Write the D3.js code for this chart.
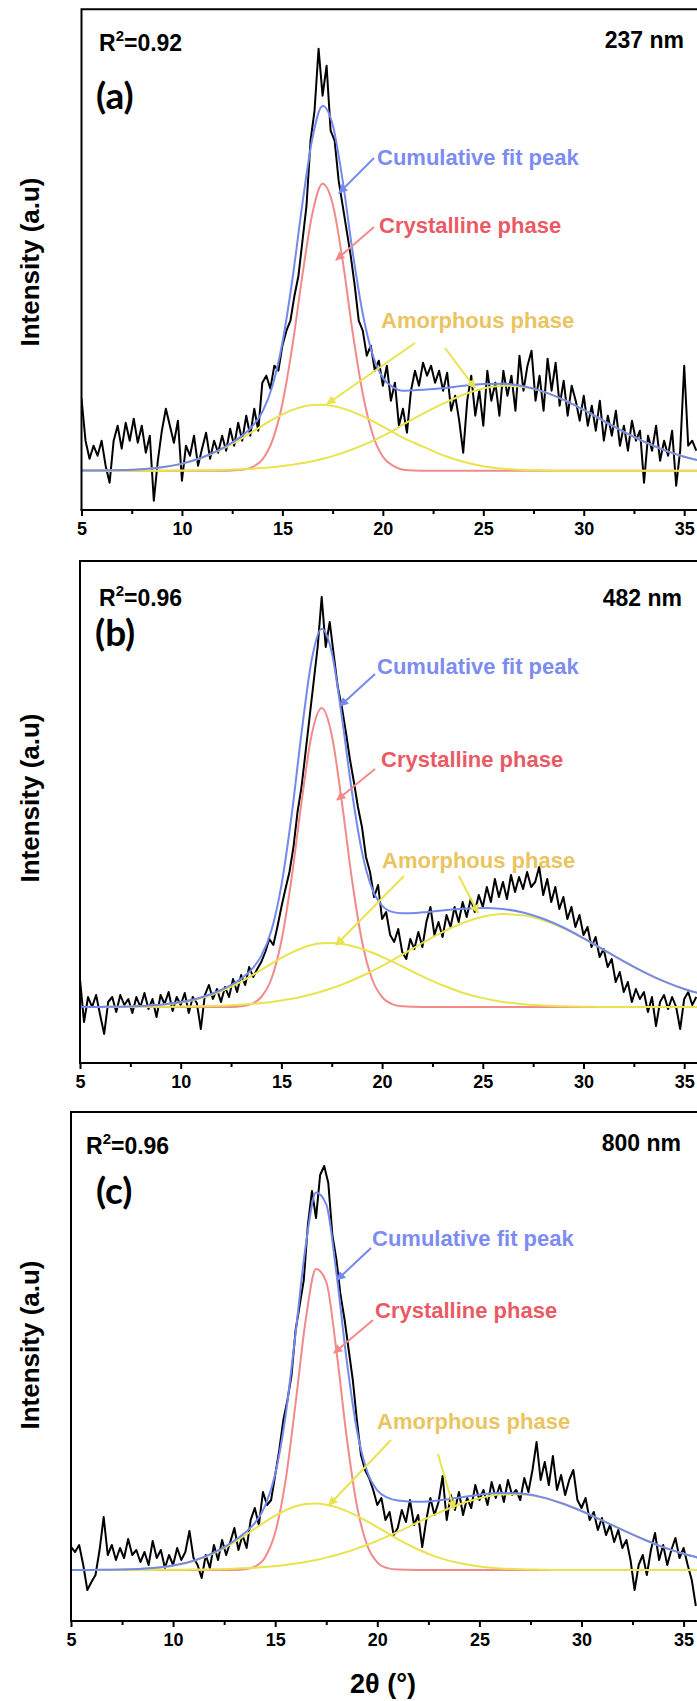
<!DOCTYPE html>
<html><head><meta charset="utf-8">
<script src="https://cdn.jsdelivr.net/npm/d3@7"></script>
<style>body{margin:0;background:#fff}svg{display:block}</style>
</head><body><svg id="c" width="697" height="1701"></svg>
<script>
// ---------- DATA ----------
const dataStart = 5, dataStep = 0.2;   // 2θ sampling of the measured patterns
const dataA = [72,30,12,25,15,30,5,-12,30,45,
22,48,30,52,28,45,18,35,-30,10,
40,62,45,28,50,-10,25,15,35,5,
22,38,12,30,18,35,20,42,25,48,
30,55,35,62,40,88,95,82,105,100,
125,140,150,175,195,230,265,330,360,422,
375,405,340,330,290,265,240,215,185,150,
140,115,125,100,110,85,105,70,88,45,
62,38,80,100,85,108,95,105,88,100,
80,98,60,75,50,18,70,95,55,80,
45,100,70,88,55,100,75,95,60,115,
80,105,120,70,95,60,112,80,108,65,
90,55,85,70,50,75,45,65,40,70,
30,55,35,60,25,45,20,50,30,40,
-12,35,20,45,10,30,15,40,-15,20,
105,25,30,20];
const dataB = [28,-15,10,0,12,-8,-27,5,10,-5,
12,2,8,-6,10,0,14,-2,8,-10,
12,3,15,-4,10,2,14,-6,10,4,
-22,12,22,8,18,5,20,10,28,15,
32,22,40,30,38,45,55,68,62,80,
100,118,135,160,195,220,255,290,325,360,
410,360,385,352,320,300,275,248,225,200,
180,150,135,110,122,88,95,72,65,78,
55,48,68,58,75,60,85,100,72,85,
70,92,80,100,85,105,90,108,95,112,
100,120,105,128,110,125,108,132,115,130,
118,135,120,125,140,112,128,105,120,98,
110,88,100,80,92,72,80,60,70,50,
58,40,48,25,35,15,25,5,18,8,
15,-5,10,-19,5,12,-2,10,0,-22,
8,15,2,10];
const dataC = [23,18,25,5,-20,-12,-5,20,53,15,
25,10,22,12,31,15,20,8,18,5,
29,12,20,2,15,5,22,10,18,39,
12,5,-8,15,2,25,10,30,15,28,
42,20,35,22,50,62,45,78,65,70,
95,120,150,170,195,240,265,290,345,379,
352,395,404,387,335,310,275,250,220,190,
150,115,100,92,80,65,72,50,58,35,
42,60,48,70,45,55,23,50,72,55,
68,94,50,75,60,78,55,72,62,85,
70,80,65,88,72,85,68,90,75,80,
70,92,78,100,128,90,108,85,114,80,
95,75,90,100,70,62,72,50,58,40,
52,35,45,28,40,22,30,10,-20,5,
15,-5,20,37,10,25,5,20,32,12,
22,5,-10,-36];

const fitX = [5,6,7,8,9,10,11,12,12.5,13,13.5,14,14.5,15,15.5,16,16.5,17,17.5,18,18.5,19,19.5,20,20.5,21,22,23,24,25,26,27,28,29,30,31,32,33,34,35,36];

const crystA = [0,0,0,0,0,0,0,0, 0.3,1,3.6,11,30,67,125,196,258,287,267,210,138,77,36,14,5,1, 0,0,0,0,0,0,0,0,0,0,0,0,0,0,0];
const amorph1A = [0.1,0.2,0.6,1.5,3.4,6.9,12.8,21.5, 26.8,32.6,38.8,45,51,56.4,60.8,64,65.7,65.9,64.6,62.3,58.8,54.5,49.5,44,38.5,33, 24,15.5,9,4.5,2,0.8,0.3,0,0,0,0,0,0,0,0];
const amorph2A = [0,0,0,0,0,0.2,0.4,0.8, 1.1,1.5,2,2.7,3.5,4.6,5.9,7.6,9.5,11.9,14.6,17.8,21.4,25.5,29.9,34.8,40,46, 57,67,76,82.2,85,83.7,78.8,70.8,60.8,49.7,38.9,29,20.6,14,9.1];

const crystB = [0,0,0,0,0,0,0,0, 0.1,0.7,2.9,10,28,66,128,205,272,299,272,205,128,66,28,10,2.9,0.7, 0,0,0,0,0,0,0,0,0,0,0,0,0,0,0];
const amorph1B = [0,0.1,0.3,0.9,2.1,4.5,8.8,15.7, 20.2,25.4,31.1,37.1,43.2,49.1,54.4,58.8,62,63.7,64,63,61,58.1,54.5,50.2,45.5,40.6, 30.7,21.7,14.3,8.9,5.1,2.8,1.4,0.7,0.3,0.1,0,0,0,0,0];
const amorph2B = [0,0,0,0.1,0.2,0.4,0.7,1.3, 1.7,2.3,3,4,5.1,6.5,8.2,10.3,12.7,15.5,18.7,22.4,26.5,31,35.9,41.2,46.7,52.4, 64,74.9,84,90.2,92.9,91.7,86.8,78.8,68.5,57.1,45.6,34.9,25.6,18,12.2];

const crystC = [0,0,0,0,0,0,0,0, 0,0.1,0.7,3.4,12.6,37.4,88.4,167,251,301,288,219,133,64.4,24.9,7.7,1.9,0.4, 0,0,0,0,0,0,0,0,0,0,0,0,0,0,0];
const amorph1C = [0,0.1,0.2,0.7,1.8,4.2,8.9,16.7, 21.9,27.8,34.4,41.2,48.1,54.4,59.7,63.7,66,66.4,65.3,62.7,58.9,54.2,48.7,42.8,36.8,30.9, 20.5,12.4,6.9,3.5,1.6,0.7,0.3,0,0,0,0,0,0,0,0];
const amorph2C = [0,0,0,0,0.1,0.2,0.4,0.7, 1,1.3,1.8,2.3,3.1,4,5.1,6.5,8.1,10.1,12.4,15,18,21.4,25.2,29.2,33.6,38.2, 47.8,57.2,65.5,71.8,75.4,75.7,72.8,67,59,49.7,40.1,31,22.9,16.2,10.9];

const xTicks = [5,10,15,20,25,30,35];
const xMinorTicks = [7.5,12.5,17.5,22.5,27.5,32.5];
const r2Values = ["0.92","0.96","0.96"];
const thicknessLabels = ["237 nm","482 nm","800 nm"];
const panelLetters = ["(a)","(b)","(c)"];
const seriesNames = ["Cumulative fit peak","Crystalline phase","Amorphous phase"];

// ---------- LAYOUT ----------
const layout = [
  {left:81.5, x35:684.2, top:9.3, axis:510, base:470.7, ylab:262,
   r2:[99,43], nm:[684,40], let:[96,94],
   cum:{t:[377,157], a:[[374,158],[339,193]]},
   cry:{t:[379,225], a:[[374,227],[336,260]]},
   amo:{t:[381,320], a1:[[415,343],[327,404]], a2:[[445,348],[475,388]]}},
  {left:80, x35:684.2, top:561, axis:1063, base:1007, ylab:798,
   r2:[99,598], nm:[682,598], let:[95,631],
   cum:{t:[377,666], a:[[375,674],[340,706]]},
   cry:{t:[381,759], a:[[375,769],[337,800]]},
   amo:{t:[382,860], a1:[[404,876],[336,945]], a2:[[459,876],[478,913]]}},
  {left:71, x35:683.6, top:1112, axis:1621, base:1570, ylab:1345,
   r2:[86,1146], nm:[681,1143], let:[96,1189],
   cum:{t:[372,1238], a:[[371,1248],[337,1280]]},
   cry:{t:[375,1310], a:[[373,1320],[334,1353]]},
   amo:{t:[377,1421], a1:[[391,1440],[329,1505]], a2:[[438,1454],[454,1509]]}}
];
const series = [
  {data:dataA, cr:crystA, a1:amorph1A, a2:amorph2A},
  {data:dataB, cr:crystB, a1:amorph1B, a2:amorph2B},
  {data:dataC, cr:crystC, a1:amorph1C, a2:amorph2C}
];

const C = {blueLine:"#7488ee", blueText:"#7c8cf0", redLine:"#f28a8a", redText:"#ea5a64",
           yelLine:"#e8e34e", yelText:"#e9c45f"};
const FONT = "'Liberation Sans', Arial, sans-serif";

const svg = d3.select("#c");
const defs = svg.append("defs");
function marker(id, color){
  defs.append("marker").attr("id",id).attr("viewBox","0 0 10 10").attr("refX",9).attr("refY",5)
    .attr("markerWidth",11).attr("markerHeight",9).attr("markerUnits","userSpaceOnUse")
    .attr("orient","auto").append("path").attr("d","M0,0L10,5L0,10z").attr("fill",color);
}
marker("mb",C.blueLine); marker("mr",C.redLine); marker("my",C.yelLine);

layout.forEach((L,i)=>{
  const S = series[i];
  const x = d3.scaleLinear().domain([5,35]).range([L.left, L.x35]);
  const y = d3.scaleLinear().domain([-(L.axis-L.base), L.base-L.top]).range([L.axis, L.top]);
  const g = svg.append("g");
  const clipId = "clip"+i;
  defs.append("clipPath").attr("id",clipId).append("rect")
    .attr("x",L.left).attr("y",L.top).attr("width",697-L.left+5).attr("height",L.axis-L.top);
  const plot = g.append("g").attr("clip-path",`url(#${clipId})`);

  const pts = S.data.map((v,k)=>[dataStart+k*dataStep, v]);
  const line = d3.line().x(d=>x(d[0])).y(d=>y(d[1]));
  const fitLine = d3.line().x(d=>x(d[0])).y(d=>y(d[1])).curve(d3.curveMonotoneX);

  plot.append("path").attr("d",line(pts)).attr("fill","none").attr("stroke","#000")
    .attr("stroke-width",2).attr("stroke-linejoin","round");

  const cr = fitX.map((xv,k)=>[xv,S.cr[k]]);
  const a1 = fitX.map((xv,k)=>[xv,S.a1[k]]);
  const a2 = fitX.map((xv,k)=>[xv,S.a2[k]]);
  const cum = fitX.map((xv,k)=>[xv,S.cr[k]+S.a1[k]+S.a2[k]]);
  plot.append("path").attr("d",fitLine(cr)).attr("fill","none").attr("stroke",C.redLine).attr("stroke-width",2);
  plot.append("path").attr("d",fitLine(a1)).attr("fill","none").attr("stroke",C.yelLine).attr("stroke-width",2);
  plot.append("path").attr("d",fitLine(a2)).attr("fill","none").attr("stroke",C.yelLine).attr("stroke-width",2);
  plot.append("path").attr("d",fitLine(cum)).attr("fill","none").attr("stroke",C.blueLine).attr("stroke-width",2);

  // frame
  g.append("path").attr("d",`M${L.left},${L.axis}V${L.top}H705`).attr("fill","none").attr("stroke","#000").attr("stroke-width",2);
  g.append("path").attr("d",`M${L.left-1},${L.axis}H705`).attr("stroke","#000").attr("stroke-width",2);

  // axis ticks
  const ax = g.append("g").attr("transform",`translate(0,${L.axis})`)
    .call(d3.axisBottom(x).tickValues(xTicks).tickSize(6).tickPadding(6).tickFormat(d3.format("d")));
  ax.select(".domain").remove();
  ax.selectAll(".tick line").attr("stroke","#000").attr("stroke-width",2);
  ax.selectAll(".tick text").attr("font-family",FONT).attr("font-weight","bold").attr("font-size",18).attr("fill","#000");
  const axm = g.append("g").attr("transform",`translate(0,${L.axis})`)
    .call(d3.axisBottom(x).tickValues(xMinorTicks).tickSize(4).tickFormat(""));
  axm.select(".domain").remove();
  axm.selectAll(".tick line").attr("stroke","#000").attr("stroke-width",2);

  // y label
  g.append("text").attr("transform",`translate(30,${L.ylab}) rotate(-90)`)
    .attr("text-anchor","middle").attr("dominant-baseline","central")
    .attr("font-family",FONT).attr("font-weight","bold").attr("font-size",26).text("Intensity (a.u)");

  // R2
  const r = g.append("text").attr("x",L.r2[0]).attr("y",L.r2[1]).attr("dominant-baseline","central")
    .attr("font-family",FONT).attr("font-weight","bold").attr("font-size",23);
  r.append("tspan").text("R");
  r.append("tspan").attr("font-size",15).attr("dy",-8).text("2");
  r.append("tspan").attr("dy",8).text("="+r2Values[i]);
  g.append("text").attr("x",L.nm[0]).attr("y",L.nm[1]).attr("text-anchor","end").attr("dominant-baseline","central")
    .attr("font-family",FONT).attr("font-weight","bold").attr("font-size",23).text(thicknessLabels[i]);
  g.append("text").attr("x",L.let[0]).attr("y",L.let[1]).attr("dominant-baseline","central")
    .attr("font-family","Lato, 'Open Sans', sans-serif").attr("font-weight","bold").attr("font-size",37).text(panelLetters[i]);

  // annotations
  const ann = [[L.cum, C.blueText, C.blueLine, "mb", seriesNames[0]],
               [L.cry, C.redText, C.redLine, "mr", seriesNames[1]],
               [L.amo, C.yelText, C.yelLine, "my", seriesNames[2]]];
  ann.forEach(([A,tc,lc,mk,name])=>{
    g.append("text").attr("x",A.t[0]).attr("y",A.t[1]).attr("dominant-baseline","central")
      .attr("font-family",FONT).attr("font-weight","bold").attr("font-size",22).attr("fill",tc).text(name);
    [A.a, A.a1, A.a2].filter(Boolean).forEach(seg=>{
      g.append("line").attr("x1",seg[0][0]).attr("y1",seg[0][1]).attr("x2",seg[1][0]).attr("y2",seg[1][1])
        .attr("stroke",lc).attr("stroke-width",2).attr("marker-end",`url(#${mk})`);
    });
  });
});

svg.append("text").attr("x",383).attr("y",1693).attr("text-anchor","middle")
  .attr("font-family",FONT).attr("font-weight","bold").attr("font-size",27).text("2θ (°)");
</script></body></html>
